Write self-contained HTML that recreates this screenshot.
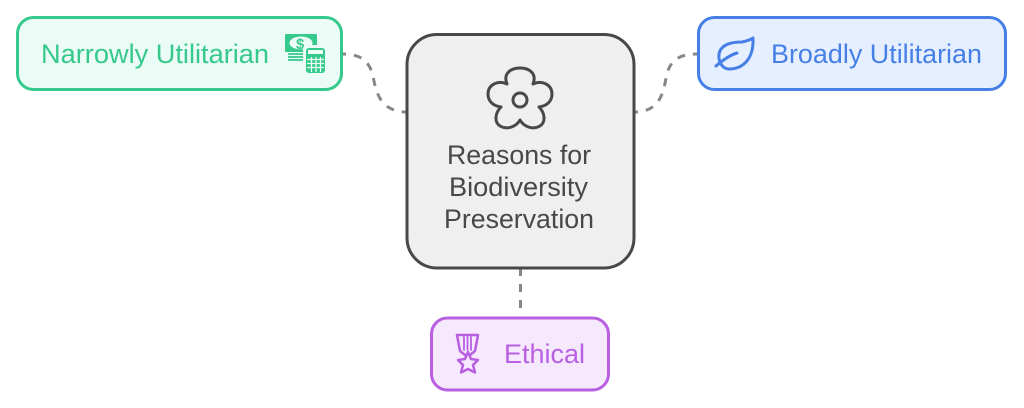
<!DOCTYPE html>
<html><head><meta charset="utf-8"><style>
html,body{margin:0;padding:0;background:#fff}
svg{display:block}
text{font-family:"Liberation Sans",sans-serif;font-size:27px}
</style></head><body>
<svg width="1024" height="408" viewBox="0 0 1024 408" xmlns="http://www.w3.org/2000/svg">
<rect width="1024" height="408" fill="#fff"/>
<g fill="none" stroke="#878787" stroke-width="3" stroke-dasharray="8 8">
<path d="M342 54C360 54 369 60 373 76C376 92 380 112 407 112" stroke-dashoffset="4"/>
<path d="M697 54C677 54 669 62 666 78C663 96 658 112 634 112" stroke-dashoffset="4"/>
<path d="M520.500 268V310"/>
</g>
<rect x="17.500" y="17.500" width="324" height="72" rx="16" fill="#ebfbf5" stroke="#35c98b" stroke-width="3"/>
<rect x="698.500" y="17.500" width="307" height="72" rx="16" fill="#e6efff" stroke="#4680e6" stroke-width="3"/>
<rect x="431.500" y="318" width="177" height="72" rx="16" fill="#f6e8fd" stroke="#b85fe2" stroke-width="3"/>
<rect x="407" y="34.500" width="227" height="233.500" rx="30" fill="#efefef" stroke="#484848" stroke-width="3"/>
<text x="41" y="63" fill="#35c98b" textLength="228" lengthAdjust="spacingAndGlyphs">Narrowly Utilitarian</text>
<text x="771" y="63" fill="#4680e6" textLength="211" lengthAdjust="spacingAndGlyphs">Broadly Utilitarian</text>
<text x="504" y="363" fill="#b85fe2" textLength="81" lengthAdjust="spacingAndGlyphs">Ethical</text>
<g fill="#484848">
<text x="447" y="164" textLength="144" lengthAdjust="spacingAndGlyphs">Reasons for</text>
<text x="449" y="196" textLength="139" lengthAdjust="spacingAndGlyphs">Biodiversity</text>
<text x="444" y="228" textLength="150" lengthAdjust="spacingAndGlyphs">Preservation</text>
</g>
<!-- flower -->
<g fill="none" stroke="#484848" stroke-width="3" stroke-linejoin="round">
<path d="M507 84C503 74 510 68 520 68C530 68 537 74 533 84C541 80 552 84 552 94C552 102 546 106 539 107C545 113 546 122 540 126C533 130 524 127 520 120C516 127 507 130 500 126C494 122 495 113 501 107C494 106 488 102 488 94C488 84 499 80 507 84Z"/>
<circle cx="520" cy="100" r="7"/>
</g>
<!-- money and calculator -->
<rect x="285" y="34" width="32" height="18" rx="1" fill="#35c98b"/>
<ellipse cx="301" cy="43" rx="11.500" ry="6.500" fill="#ebfbf5"/>
<text x="296" y="49" style="font-size:15px;font-weight:bold" fill="#35c98b">$</text>
<path d="M288 54H306M288 57H306M288 60H306" stroke="#35c98b" stroke-width="1.700" fill="none"/>
<rect x="303" y="45" width="24" height="31" rx="4" fill="#ebfbf5"/>
<rect x="306" y="48" width="19" height="25" rx="3" fill="#35c98b"/>
<rect x="308" y="50" width="15" height="4" fill="#ebfbf5"/>
<path d="M307 59.500H324M307 63.500H324M307 67.500H324M311.500 57V72M316 57V72M320.500 57V72" stroke="#ebfbf5" stroke-width="1.300" fill="none"/>
<!-- leaf -->
<g fill="none" stroke="#4680e6" stroke-width="3" stroke-linecap="round" stroke-linejoin="round">
<path d="M753 38C754 60 742 69 729 69C722 69 718 61 719 54C721 43 735 42 742 42C747 41 750 40 753 38Z"/>
<path d="M716 66C723 60 730 55 737 53"/>
</g>
<!-- medal -->
<g fill="none" stroke="#b85fe2" stroke-linejoin="round" stroke-linecap="round">
<path d="M457 335H478L475 351L470 355H465L460 351Z" stroke-width="2.500"/>
<path d="M464 337V350M467.500 337V350M471 337V350" stroke-width="1.800"/>
<path d="M468 352L471 359L478 360L473 365L475 372.500L468 369L461 372.500L463 365L458 360L465 359Z" stroke-width="2.500" fill="#f6e8fd"/>
</g>
</svg>
</body></html>
